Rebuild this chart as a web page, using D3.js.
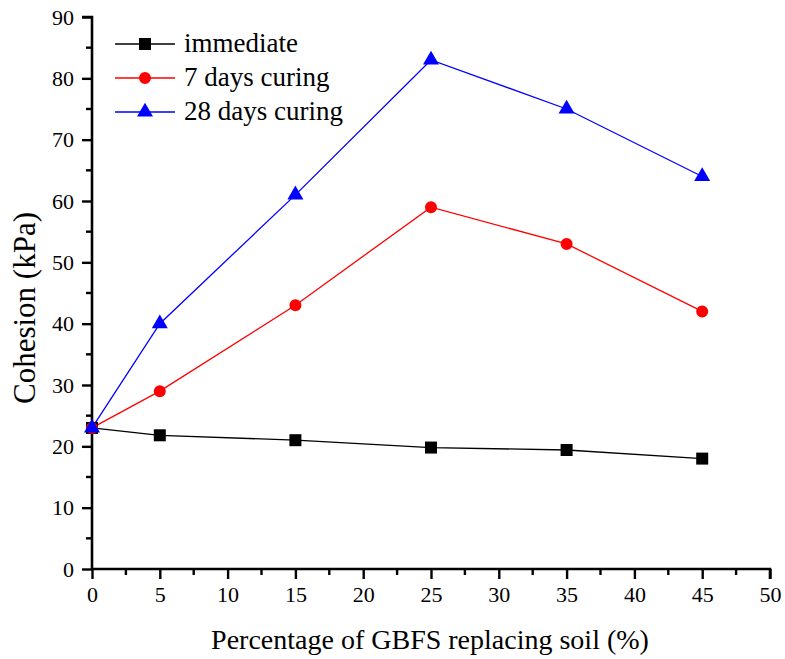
<!DOCTYPE html>
<html>
<head>
<meta charset="utf-8">
<script src="https://cdn.jsdelivr.net/npm/d3@7"></script>
<style>
  html, body { margin: 0; padding: 0; background: #fff; }
  svg { display: block; font-family: "Liberation Serif", "Times New Roman", serif; }
</style>
</head>
<body>
<svg id="chart" width="785" height="659"></svg>
<script>
// GBFS replacement percentages (x values)
const gbfsPercent = [0, 5, 15, 25, 35, 45];
// Cohesion (kPa) for each curing condition
const immediate = [23, 21.8, 21, 19.8, 19.4, 18];
const curing7 = [23, 29, 43, 59, 53, 42];
const curing28 = [23, 40, 61, 83, 75, 64];
const seriesNames = ["immediate", "7 days curing", "28 days curing"];
const seriesColors = ["#000000", "#ff0000", "#0000ff"];
const seriesShapes = [d3.symbolSquare, d3.symbolCircle, d3.symbolTriangle];
const seriesSizes = [144, 113, 111];
const xTicks = [0, 5, 10, 15, 20, 25, 30, 35, 40, 45, 50];
const yTicks = [0, 10, 20, 30, 40, 50, 60, 70, 80, 90];

const svg = d3.select("#chart");
const plotLeft = 92, plotRight = 770, plotTop = 17, plotBottom = 569;

const x = d3.scaleLinear().domain([0, 50]).range([plotLeft, plotRight]);
const y = d3.scaleLinear().domain([0, 90]).range([plotBottom, plotTop]);

const series = [immediate, curing7, curing28].map((vals, i) => ({
  name: seriesNames[i],
  color: seriesColors[i],
  shape: seriesShapes[i],
  size: seriesSizes[i],
  points: vals.map((v, j) => ({ x: gbfsPercent[j], y: v }))
}));

// Axes
const xAxis = d3.axisBottom(x).tickValues(xTicks).tickSize(10).tickPadding(7).tickFormat(d3.format("d"));
const yAxis = d3.axisLeft(y).tickValues(yTicks).tickSize(10).tickPadding(8).tickFormat(d3.format("d"));

// Minor ticks
const xMinor = d3.range(2.5, 50, 5);
const yMinor = d3.range(5, 90, 10);

const gx = svg.append("g").attr("transform", `translate(0,${plotBottom})`).call(xAxis);
const gy = svg.append("g").attr("transform", `translate(${plotLeft},0)`).call(yAxis);

[gx, gy].forEach(g => {
  g.select(".domain").attr("stroke", "#000").attr("stroke-width", 2.6);
  g.selectAll(".tick line").attr("stroke", "#000").attr("stroke-width", 2.4);
  g.selectAll(".tick text").attr("fill", "#000").style("font-size", "22px")
    .style("font-family", "'Liberation Serif', serif");
});
gx.select(".domain").attr("d", `M${plotLeft},0H${plotRight}V10`);
gy.select(".domain").attr("d", `M-10,${plotTop}H0V${plotBottom}`);

svg.append("g").selectAll("line").data(xMinor).join("line")
  .attr("x1", d => x(d)).attr("x2", d => x(d))
  .attr("y1", plotBottom).attr("y2", plotBottom + 6)
  .attr("stroke", "#000").attr("stroke-width", 2.4);
svg.append("g").selectAll("line").data(yMinor).join("line")
  .attr("x1", plotLeft - 6).attr("x2", plotLeft)
  .attr("y1", d => y(d)).attr("y2", d => y(d))
  .attr("stroke", "#000").attr("stroke-width", 2.4);

// Axis titles
svg.append("text")
  .attr("x", 430).attr("y", 649)
  .attr("text-anchor", "middle")
  .style("font-size", "28px").attr("fill", "#000")
  .text("Percentage of GBFS replacing soil (%)");
svg.append("text")
  .attr("transform", `translate(35,308) rotate(-90)`)
  .attr("text-anchor", "middle")
  .style("font-size", "31px").attr("fill", "#000")
  .text("Cohesion (kPa)");

// Lines and markers
const line = d3.line().x(d => x(d.x)).y(d => y(d.y));
series.forEach(s => {
  svg.append("path").datum(s.points)
    .attr("d", line).attr("fill", "none")
    .attr("stroke", s.color).attr("stroke-width", 1.3);
});
series.forEach(s => {
  svg.append("g").selectAll("path").data(s.points).join("path")
    .attr("transform", d => `translate(${x(d.x)},${y(d.y)})`)
    .attr("d", d3.symbol().type(s.shape).size(s.size))
    .attr("fill", s.color);
});

// Legend
const legend = svg.append("g");
series.forEach((s, i) => {
  const ly = 44 + i * 34;
  legend.append("line").attr("x1", 115).attr("x2", 175).attr("y1", ly).attr("y2", ly)
    .attr("stroke", s.color).attr("stroke-width", 1.3);
  legend.append("path")
    .attr("transform", `translate(145,${ly})`)
    .attr("d", d3.symbol().type(s.shape).size(s.size))
    .attr("fill", s.color);
  legend.append("text").attr("x", 184).attr("y", ly + 8)
    .style("font-size", "27px").attr("fill", "#000")
    .text(s.name);
});
</script>
</body>
</html>
